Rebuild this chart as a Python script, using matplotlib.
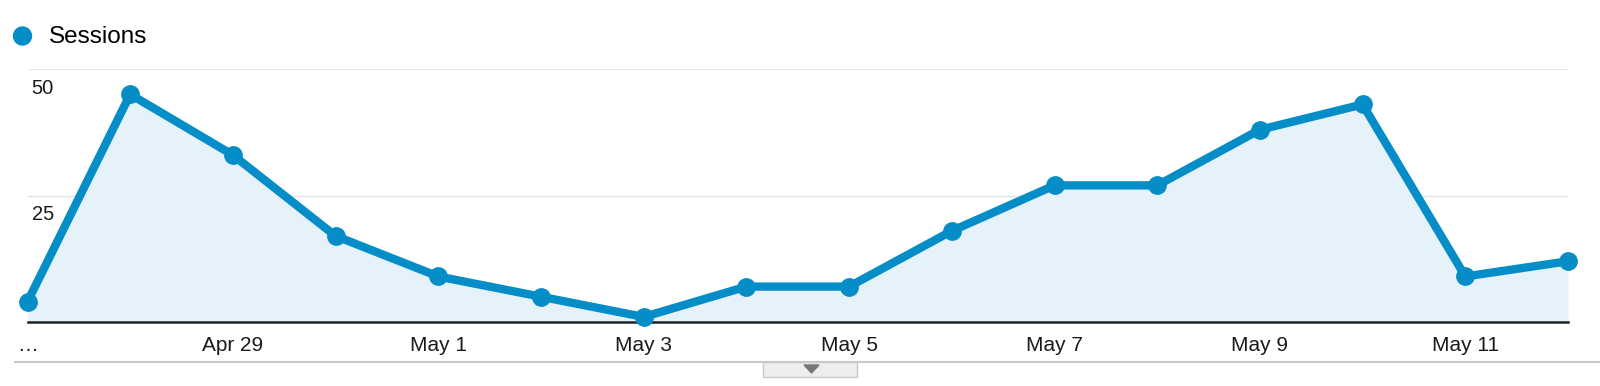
import matplotlib.pyplot as plt
from matplotlib.patches import Rectangle, Polygon, Circle

plt.rcParams['font.family'] = ['Liberation Sans', 'DejaVu Sans']

dates = ['Apr 27', 'Apr 28', 'Apr 29', 'Apr 30', 'May 1', 'May 2', 'May 3', 'May 4',
         'May 5', 'May 6', 'May 7', 'May 8', 'May 9', 'May 10', 'May 11', 'May 12']
sessions = [4, 45, 33, 17, 9, 5, 1, 7, 7, 18, 27, 27, 38, 43, 9, 12]
tick_labels = ['…', 'Apr 29', 'May 1', 'May 3', 'May 5', 'May 7', 'May 9', 'May 11']
y_ticks = [25, 50]

blue = '#058dc7'
W, H = 1600, 386

fig = plt.figure(figsize=(16, 3.86), dpi=100)
ax = fig.add_axes([27.5 / W, (H - 322) / H, (1568 - 27.5) / W, (322 - 69) / H])

x = list(range(len(dates)))
ax.fill_between(x, sessions, 0, color='#e6f2fa', lw=0)
ax.plot(x, sessions, color=blue, lw=6, marker='o', ms=12.5, clip_on=False,
        solid_joinstyle='round', zorder=3)

ax.set_xlim(0, len(dates) - 1)
ax.set_ylim(0, 50)
for v in y_ticks:
    ax.axhline(v, color='#e5e5e5', lw=1, zorder=0)
    ax.annotate(str(v), xy=(0, v), xycoords=('axes fraction', 'data'),
                xytext=(3, -7), textcoords='offset points', ha='left', va='top',
                fontsize=14.5, color='#1a1a1a')

tick_pos = list(range(0, len(dates), 2))
ax.set_xticks(tick_pos)
ax.set_xticklabels(tick_labels, fontsize=15, color='#1a1a1a')
ax.tick_params(axis='x', length=0, pad=10)
ax.set_yticks([])
for s in ['top', 'right', 'left']:
    ax.spines[s].set_visible(False)
ax.spines['bottom'].set_color('#222222')
ax.spines['bottom'].set_linewidth(1.8)

# overlay for legend and bottom widget, in pixel coordinates
ov = fig.add_axes([0, 0, 1, 1], zorder=-1)
ov.set_xlim(0, W)
ov.set_ylim(H, 0)
ov.axis('off')
ov.add_patch(Circle((22.5, 36), 9, color=blue))
ov.text(49, 37, 'Sessions', fontsize=17.5, va='center', ha='left', color='#000000')
ov.plot([15, W], [362, 362], color='#c8c8c8', lw=1.5)
ov.add_patch(Rectangle((763, 362), 94, 15, facecolor='#eeeeee', edgecolor='#c8c8c8', lw=1))
ov.add_patch(Polygon([(804, 365), (819, 365), (811.5, 373)], closed=True, color='#777777'))

fig.savefig('out.png', dpi=100)
